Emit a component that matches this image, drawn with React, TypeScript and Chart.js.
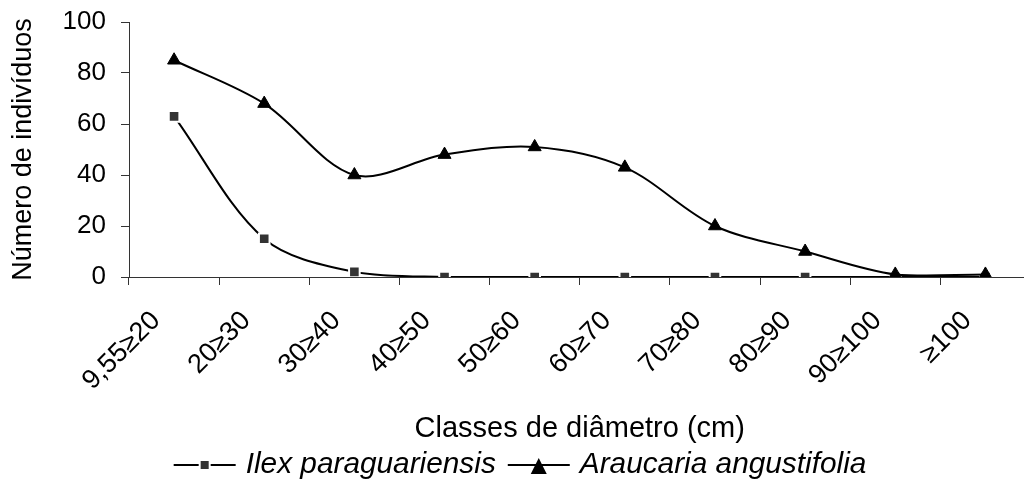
import React, { useEffect, useRef } from 'react';
import { Chart, registerables } from 'chart.js';

Chart.register(...registerables);

const categories = ['9,55≥20', '20≥30', '30≥40', '40≥50', '50≥60', '60≥70', '70≥80', '80≥90', '90≥100', '≥100'];
const ilexValues = [63, 15, 2, 0, 0, 0, 0, 0, 0, 0];
const araucariaValues = [85, 68, 40, 48, 51, 43, 20, 10, 1, 1];
const yTicks = [0, 20, 40, 60, 80, 100];
const seriesLabels = ['Ilex paraguariensis', 'Araucaria angustifolia'];
const yTitle = 'Número de indivíduos';
const xTitle = 'Classes de diâmetro (cm)';

const FONT = '"Liberation Sans", Arial, sans-serif';

const legendPlugin = {
  id: 'lineMarkerLegend',
  afterDraw(chart: any) {
    const ctx = chart.ctx as CanvasRenderingContext2D;
    const symW = 62;
    const textGap = 10;
    const itemGap = 12;
    const centerX = 520;
    const lineY = 465;
    const baseY = 473;
    ctx.save();
    ctx.font = `italic 29.8px ${FONT}`;
    const items = chart.data.datasets.map((ds: any) => ({ ds, w: ctx.measureText(ds.label).width }));
    const total =
      items.reduce((a: number, it: any) => a + symW + textGap + it.w, 0) + itemGap * (items.length - 1);
    let x = centerX - total / 2;
    items.forEach(({ ds, w }: any) => {
      ctx.strokeStyle = '#000';
      ctx.lineWidth = 2;
      ctx.beginPath();
      ctx.moveTo(x, lineY);
      ctx.lineTo(x + symW, lineY);
      ctx.stroke();
      const cx = x + symW / 2;
      if (ds.pointStyle === 'rect') {
        ctx.fillStyle = '#fff';
        ctx.fillRect(cx - 6, lineY - 6, 12, 12);
        ctx.fillStyle = '#333';
        ctx.fillRect(cx - 4, lineY - 4, 8, 8);
      } else {
        ctx.fillStyle = '#000';
        ctx.beginPath();
        ctx.moveTo(cx, lineY - 7);
        ctx.lineTo(cx + 8, lineY + 9);
        ctx.lineTo(cx - 8, lineY + 9);
        ctx.closePath();
        ctx.fill();
      }
      ctx.fillStyle = '#000';
      ctx.textBaseline = 'alphabetic';
      ctx.textAlign = 'left';
      ctx.fillText(ds.label, x + symW + textGap, baseY);
      x += symW + textGap + w + itemGap;
    });
    ctx.restore();
  },
};

export default function App() {
  const ref = useRef<HTMLCanvasElement>(null);

  useEffect(() => {
    document.body.style.margin = '0';
    document.body.style.overflow = 'hidden';
    document.documentElement.style.overflow = 'hidden';
    Chart.defaults.font.family = FONT;
    const canvas = ref.current!;
    const chart = new Chart(canvas, {
      type: 'line',
      data: {
        labels: categories,
        datasets: [
          {
            label: seriesLabels[0],
            data: ilexValues,
            borderColor: '#000',
            borderWidth: 2,
            tension: 0.33,
            fill: false,
            pointStyle: 'rect',
            pointRadius: 7.5,
            pointBackgroundColor: '#333',
            pointBorderColor: '#fff',
            pointBorderWidth: 2,
            order: 1,
          },
          {
            label: seriesLabels[1],
            data: araucariaValues,
            borderColor: '#000',
            borderWidth: 2,
            tension: 0.33,
            fill: false,
            pointStyle: 'triangle',
            pointRadius: 7.5,
            pointBackgroundColor: '#000',
            pointBorderColor: '#000',
            pointBorderWidth: 1,
            order: 0,
          },
        ],
      },
      options: {
        responsive: false,
        animation: false,
        layout: { padding: { top: 22, right: 0, bottom: 33, left: 0 } },
        plugins: { legend: { display: false }, tooltip: { enabled: false } },
        scales: {
          x: {
            type: 'category',
            offset: true,
            grid: {
              display: true,
              offset: true,
              drawOnChartArea: false,
              drawTicks: true,
              tickLength: 8,
              color: '#333',
            },
            border: { display: true, color: '#333', width: 1 },
            ticks: {
              autoSkip: false,
              minRotation: 45,
              maxRotation: 45,
              padding: 20,
              labelOffset: -18,
              color: '#000',
              font: { size: 27 },
            },
            title: { display: true, text: xTitle, color: '#000', font: { size: 29 }, padding: 0 },
            afterFit: (s: any) => {
              s.height = 169;
              s.paddingLeft = 0;
              s.paddingRight = 0;
            },
          },
          y: {
            min: 0,
            max: 100,
            afterBuildTicks: (s: any) => {
              s.ticks = yTicks.map((v) => ({ value: v }));
            },
            ticks: { padding: 15, color: '#000', font: { size: 26 } },
            grid: { drawOnChartArea: false, drawTicks: true, tickLength: 8, color: '#333' },
            border: { display: true, color: '#333', width: 1 },
            title: {
              display: true,
              text: yTitle,
              color: '#000',
              font: { size: 27 },
              padding: { top: 7, bottom: 0 },
            },
            afterFit: (s: any) => {
              s.width = 129;
              s.paddingTop = 0;
              s.paddingBottom = 0;
            },
          },
        },
      },
      plugins: [legendPlugin],
    });
    return () => chart.destroy();
  }, []);

  return <canvas ref={ref} width={1040} height={479} style={{ display: 'block' }} />;
}
